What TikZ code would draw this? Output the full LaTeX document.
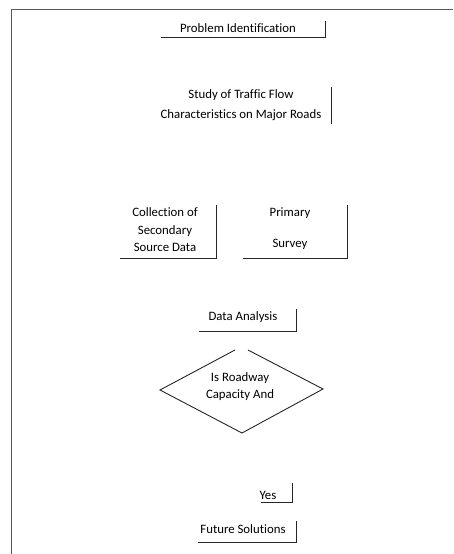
\documentclass[tikz,border=0pt]{standalone}
\usepackage{fontspec}
\setmainfont{Carlito}[Ligatures=NoCommon]
\begin{document}
\begin{tikzpicture}[x=1pt,y=-1pt,
  lbl/.style={inner sep=0pt, align=center, font=\fontsize{12.8}{17.5}\selectfont},
  edge/.style={draw=black!85, line width=0.9pt},
  frame/.style={draw=black!65, line width=1.4pt}]
\useasboundingbox (0,0) rectangle (453,554);
% page frame
\draw[frame] (11.5,554) -- (11.5,9.5) -- (453,9.5);
% Problem Identification
\node[lbl] (prob) at (238,28) {Problem Identification};
\draw[edge] (161,37) -- (325,37) -- (325,21);
% Study
\node[lbl, font=\fontsize{12.8}{20}\selectfont] (study) at (241,105) {Study of Traffic Flow\\Characteristics on Major Roads};
\draw[edge] (331,87) -- (331,124);
% Collection
\node[lbl] (coll) at (165,230) {Collection of\\Secondary\\Source Data};
\draw[edge] (120,258) -- (216,258) -- (216,205);
% Primary
\node[lbl] (prim) at (290,228.5) {Primary\\[13.5pt]Survey};
\draw[edge] (243,258) -- (347,258) -- (347,205);
% Data Analysis
\node[lbl] (data) at (243,317) {Data Analysis};
\draw[edge] (199,331) -- (296,331) -- (296,309);
% Decision
\draw[edge] (235,350) -- (160,390) -- (242,433) -- (323,389) -- (248,350);
\node[lbl, font=\fontsize{12.8}{17}\selectfont] (dec) at (240,386.5) {Is Roadway\\Capacity And};
% Yes
\node[lbl] (yes) at (268,495) {Yes};
\draw[edge] (261,502) -- (292,502) -- (292,483);
% Future Solutions
\node[lbl] (fut) at (243,529) {Future Solutions};
\draw[edge] (198,542) -- (296,542) -- (296,521);
\end{tikzpicture}
\end{document}
